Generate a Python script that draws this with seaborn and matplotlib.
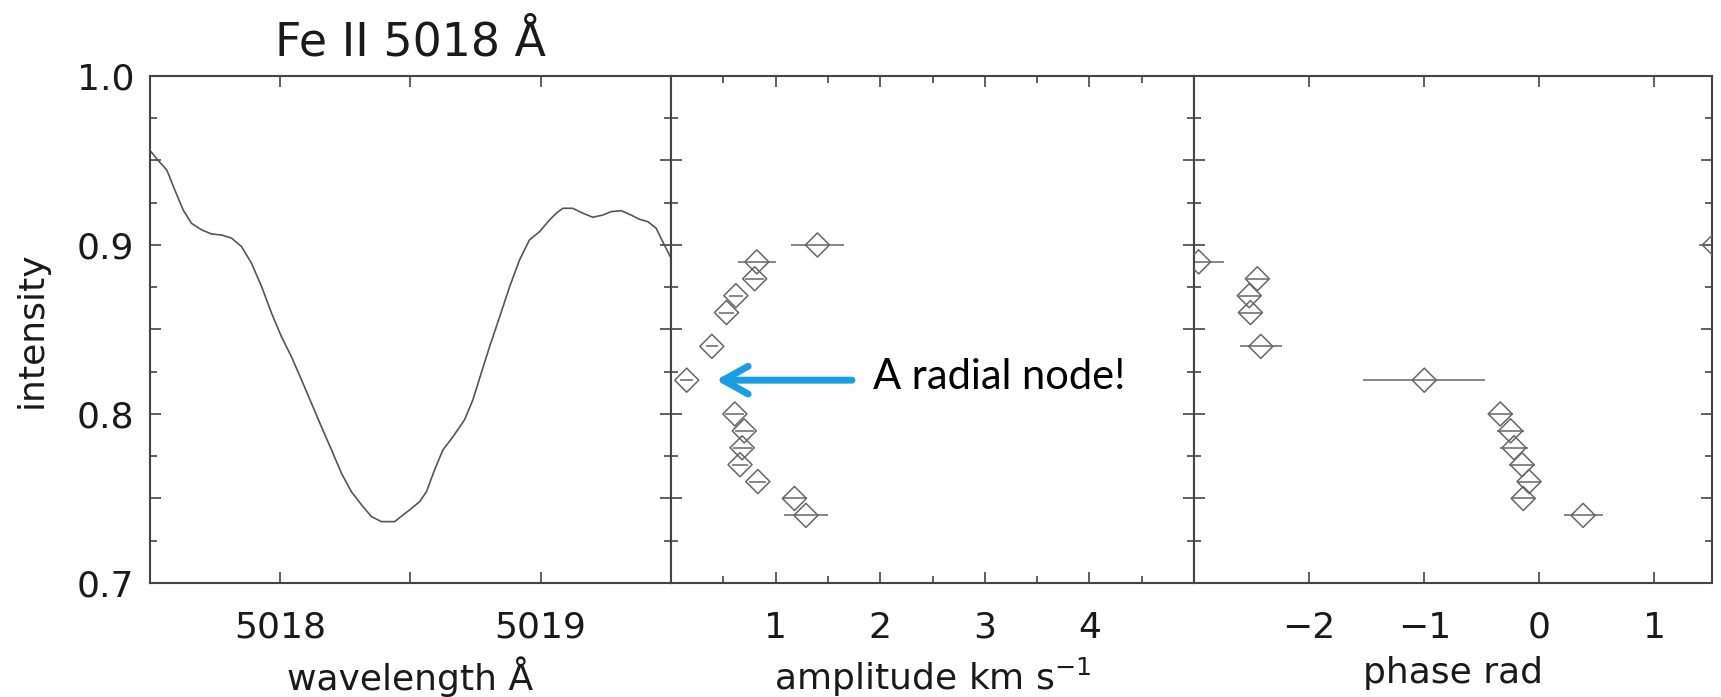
import numpy as np
import pandas as pd
import matplotlib
matplotlib.use("Agg")
import matplotlib.pyplot as plt
import seaborn as sns
from matplotlib.ticker import MultipleLocator, FuncFormatter

# spectrum (Fe II 5018)
wavelength = [5017.498, 5017.533, 5017.566, 5017.597, 5017.629, 5017.661, 5017.700, 5017.738,
              5017.776, 5017.815, 5017.853, 5017.891, 5017.930, 5017.968, 5018.006, 5018.044,
              5018.083, 5018.121, 5018.159, 5018.198, 5018.236, 5018.274, 5018.313, 5018.351,
              5018.389, 5018.440, 5018.497, 5018.536, 5018.562, 5018.593, 5018.625, 5018.664,
              5018.708, 5018.740, 5018.772, 5018.804, 5018.843, 5018.881, 5018.919, 5018.957,
              5018.996, 5019.034, 5019.060, 5019.085, 5019.123, 5019.162, 5019.200, 5019.238,
              5019.270, 5019.309, 5019.347, 5019.379, 5019.411, 5019.443, 5019.468, 5019.497]
flux = [0.9566, 0.9500, 0.9444, 0.9325, 0.9207, 0.9128, 0.9089, 0.9065,
        0.9059, 0.9040, 0.8990, 0.8892, 0.8753, 0.8596, 0.8457, 0.8339,
        0.8201, 0.8063, 0.7925, 0.7787, 0.7649, 0.7540, 0.7462, 0.7393,
        0.7363, 0.7363, 0.7432, 0.7481, 0.7540, 0.7669, 0.7787, 0.7866,
        0.7965, 0.8083, 0.8241, 0.8398, 0.8576, 0.8753, 0.8911, 0.9030,
        0.9079, 0.9148, 0.9188, 0.9217, 0.9217, 0.9188, 0.9164, 0.9177,
        0.9197, 0.9203, 0.9177, 0.9152, 0.9138, 0.9099, 0.9020, 0.8931]

# pulsation amplitude / phase across the line
intensity = [0.90, 0.89, 0.88, 0.87, 0.86, 0.84, 0.82, 0.80, 0.79, 0.78, 0.77, 0.76, 0.75, 0.74]
amplitude = [1.40, 0.82, 0.80, 0.62, 0.53, 0.39, 0.15, 0.61, 0.70, 0.68, 0.66, 0.83, 1.18, 1.29]
amp_err = [0.25, 0.18, 0.09, 0.07, 0.07, 0.06, 0.06, 0.09, 0.09, 0.09, 0.08, 0.08, 0.12, 0.21]
phase = [1.52, -2.96, -2.45, -2.52, -2.51, -2.42, -1.00, -0.34, -0.25, -0.22, -0.15, -0.09, -0.14, 0.38]
phase_err = [0.13, 0.22, 0.09, 0.09, 0.10, 0.18, 0.53, 0.11, 0.12, 0.12, 0.11, 0.10, 0.10, 0.17]

spec = pd.DataFrame({"wavelength": wavelength, "intensity": flux})
puls = pd.DataFrame({"intensity": intensity, "amplitude": amplitude, "amp_err": amp_err,
                     "phase": phase, "phase_err": phase_err})

sns.set_theme(style="ticks")
plt.rcParams['font.family'] = ['DejaVu Sans']
plt.rcParams['text.color'] = '#1a1a1a'
plt.rcParams['xtick.labelcolor'] = '#1a1a1a'
plt.rcParams['ytick.labelcolor'] = '#1a1a1a'
plt.rcParams['axes.labelcolor'] = '#1a1a1a'

fig = plt.figure(figsize=(17.21, 6.97), dpi=100)
bottom, height = 0.1636, 0.7274
ax1 = fig.add_axes([0.0869, bottom, 0.3030, height])
ax2 = fig.add_axes([0.3899, bottom, 0.3039, height])
ax3 = fig.add_axes([0.6938, bottom, 0.3010, height])

axcol = '#444444'
ptcol = '#666666'
fs = 26

sns.lineplot(data=spec, x="wavelength", y="intensity", ax=ax1, color='#555555',
             linewidth=1.2, sort=False)

for ax, col, err in [(ax2, "amplitude", "amp_err"), (ax3, "phase", "phase_err")]:
    ax.errorbar(puls[col], puls["intensity"], xerr=puls[err], fmt='none',
                ecolor=ptcol, elinewidth=1.1, capsize=0, zorder=2)
    sns.scatterplot(data=puls, x=col, y="intensity", ax=ax, marker='D', s=150,
                    facecolor='none', edgecolor=ptcol, linewidth=1.1, zorder=3)

ax1.set_xlim(5017.5, 5019.5)
ax2.set_xlim(0, 5)
ax3.set_xlim(-3, 1.5)

for ax in (ax1, ax2, ax3):
    ax.set_ylim(0.7, 1.0)
    ax.yaxis.set_major_locator(MultipleLocator(0.05))
    ax.yaxis.set_minor_locator(MultipleLocator(0.025))
    ax.tick_params(which='both', direction='in', top=True, right=True,
                   color=axcol, width=1.2, labelsize=fs)
    ax.tick_params(which='major', length=8)
    ax.tick_params(which='minor', length=5)
    ax.tick_params(axis='x', pad=20)
    ax.tick_params(axis='y', pad=11)
    for s in ax.spines.values():
        s.set_color(axcol)
        s.set_linewidth(1.5)
    ax.set_ylabel('')

ax1.yaxis.set_major_formatter(FuncFormatter(
    lambda v, p: f"{v:.1f}" if abs(v * 10 - round(v * 10)) < 1e-6 else ""))
ax1.xaxis.set_major_locator(MultipleLocator(0.5))
ax1.xaxis.set_major_formatter(FuncFormatter(
    lambda v, p: f"{v:.0f}" if abs(v - round(v)) < 1e-6 and 5017.9 < v < 5019.1 else ""))

ax2.xaxis.set_major_locator(MultipleLocator(1))
ax2.xaxis.set_minor_locator(MultipleLocator(0.5))
ax2.xaxis.set_major_formatter(FuncFormatter(
    lambda v, p: f"{v:.0f}" if 0.5 < v < 4.5 else ""))

ax3.xaxis.set_major_locator(MultipleLocator(1))
ax3.xaxis.set_minor_locator(plt.NullLocator())
ax3.xaxis.set_major_formatter(FuncFormatter(
    lambda v, p: f"{v:.0f}".replace('-', '\u2212') if -2.5 < v < 1.2 else ""))

for ax in (ax2, ax3):
    ax.tick_params(axis='y', labelleft=False)

ax1.set_ylabel('intensity', fontsize=fs, labelpad=20)
ax1.set_xlabel('wavelength Å', fontsize=fs, labelpad=8)
ax2.set_xlabel('amplitude km s$^{-1}$', fontsize=fs, labelpad=8)
ax3.set_xlabel('phase rad', fontsize=fs, labelpad=8)
ax1.set_title('Fe II 5018 Å', fontsize=33, pad=15)

# annotation
ax2.annotate('', xy=(0.43, 0.82), xytext=(1.73, 0.82),
             arrowprops=dict(arrowstyle='->, head_length=0.9, head_width=0.5',
                             color='#1a9ee3', lw=5, capstyle='round',
                             joinstyle='round', shrinkA=0, shrinkB=0,
                             mutation_scale=20))
ax2.text(1.93, 0.822, 'A radial node!', fontsize=30, family=['Lato', 'DejaVu Sans'],
         va='center', ha='left', color='black')

fig.savefig('out.png', dpi=100)
plt.close(fig)
